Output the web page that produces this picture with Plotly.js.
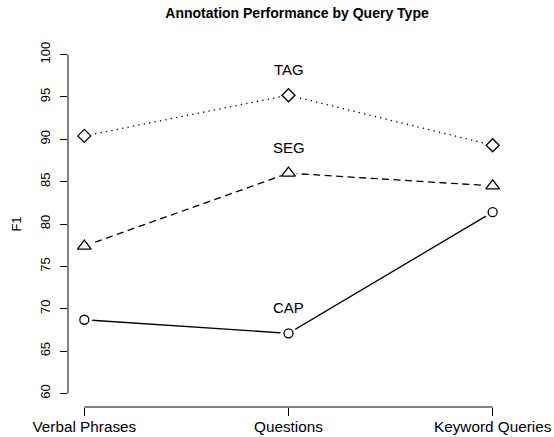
<!DOCTYPE html>
<html>
<head>
<meta charset="utf-8">
<script src="https://cdn.plot.ly/plotly-3.0.1.min.js"></script>
<style>html,body{margin:0;padding:0;background:#fff}#chart{width:554px;height:437px}</style>
</head>
<body>
<div id="chart"></div>
<script>
var categories = ["Verbal Phrases", "Questions", "Keyword Queries"];
var catIndex = [1, 2, 3];
var seriesNames = ["TAG", "SEG", "CAP"];
var tagValues = [90.4, 95.2, 89.3];
var segValues = [77.4, 86.0, 84.5];
var capValues = [68.7, 67.1, 81.4];
var yTickVals = [60, 65, 70, 75, 80, 85, 90, 95, 100];

var FONT = "Liberation Sans, Arial, Helvetica, sans-serif";
var series = [
  {name: seriesNames[0], y: tagValues, dash: "1.3px,4.2px", symbol: "diamond", size: 10},
  {name: seriesNames[1], y: segValues, dash: "7px,4.5px", symbol: "triangle-up", size: 12},
  {name: seriesNames[2], y: capValues, dash: "solid", symbol: "circle", size: 9}
];

var traces = [];
series.forEach(function(s){
  traces.push({x: catIndex, y: s.y, type: "scatter", mode: "lines", name: s.name,
    line: {color: "black", width: 1.3, dash: s.dash}, showlegend: false, hoverinfo: "skip"});
});
series.forEach(function(s){
  traces.push({x: catIndex, y: s.y, type: "scatter", mode: "markers", name: s.name + " gap",
    marker: {symbol: "circle", size: 16, color: "white", line: {width: 0}}, showlegend: false, hoverinfo: "skip"});
});
series.forEach(function(s){
  traces.push({x: catIndex, y: s.y, type: "scatter", mode: "markers", name: s.name,
    marker: {symbol: s.symbol, size: s.size, color: "white", line: {color: "black", width: 1.3}}, showlegend: false});
});

var annotations = series.map(function(s){
  return {x: catIndex[1], y: s.y[1] + 3, xref: "x", yref: "y", text: s.name, showarrow: false,
    font: {family: FONT, size: 15, color: "black"}, xanchor: "center", yanchor: "middle"};
});

var layout = {
  width: 554, height: 437,
  margin: {l: 68, r: 45, t: 41, b: 30},
  paper_bgcolor: "white", plot_bgcolor: "white",
  showlegend: false,
  title: {text: "<b>Annotation Performance by Query Type</b>", font: {family: FONT, size: 14, color: "black"},
    x: 297/554, xref: "container", xanchor: "center", y: 1 - 13.3/437, yref: "container", yanchor: "middle"},
  xaxis: {range: [0.92, 3.08], tickvals: catIndex, ticktext: categories, ticks: "outside", ticklen: 7.5,
    tickwidth: 1, tickcolor: "black", showline: false, showgrid: false, zeroline: false,
    tickfont: {family: FONT, size: 15.3, color: "black"}, ticklabelstandoff: -2, fixedrange: true},
  yaxis: {range: [58.4, 101.6], tickvals: yTickVals, ticks: "outside", ticklen: 7.5, tickwidth: 1,
    tickcolor: "black", showline: false, showgrid: false, zeroline: false, tickangle: -90,
    tickfont: {family: FONT, size: 13, color: "black"}, ticklabelstandoff: 4,
    title: {text: "F1", font: {family: FONT, size: 13, color: "black"}, standoff: 13}, automargin: false, fixedrange: true},
  shapes: [
    {type: "line", xref: "x", yref: "paper", x0: catIndex[0], x1: catIndex[catIndex.length-1], y0: 0, y1: 0, line: {color: "black", width: 1}},
    {type: "line", xref: "paper", yref: "y", x0: 0, x1: 0, y0: yTickVals[0], y1: yTickVals[yTickVals.length-1], line: {color: "black", width: 1}}
  ],
  annotations: annotations
};
Plotly.newPlot("chart", traces, layout, {staticPlot: true, displayModeBar: false});
</script>
</body>
</html>
